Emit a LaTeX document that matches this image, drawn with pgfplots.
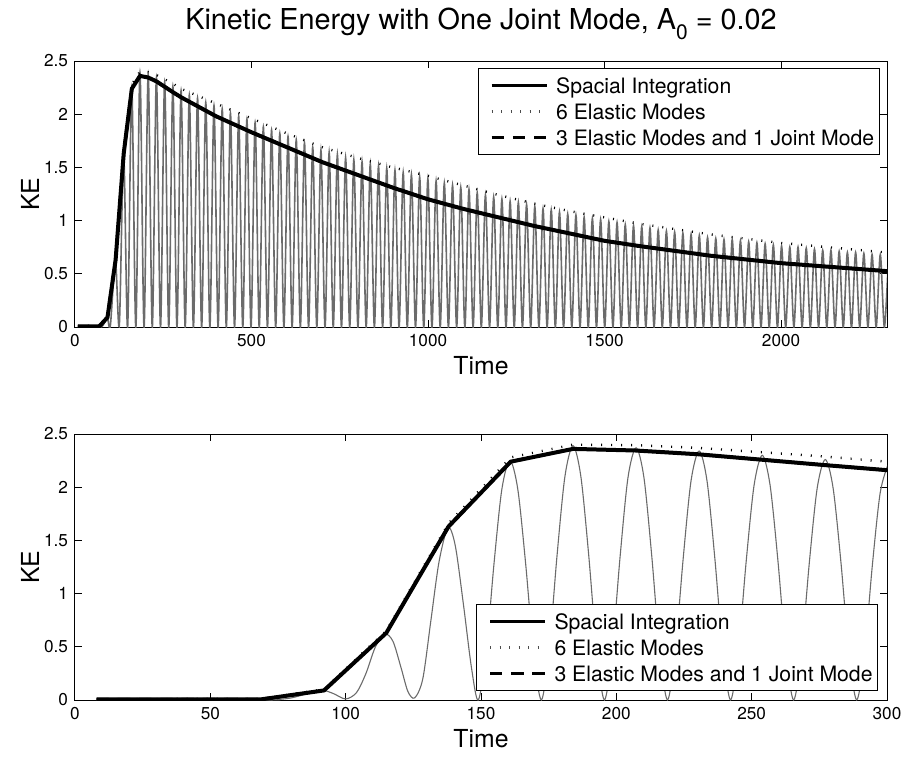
\documentclass[border=0pt]{standalone}
\usepackage{pgfplots}
\pgfplotsset{compat=1.18}
\usepackage{pgfplotstable}
\usepackage{fontspec}
\setmainfont{TeX Gyre Heros}

\pgfplotstableread{
t ke
8 0.005
69 0.007
92 0.09
115 0.63
138 1.63
161 2.24
184 2.36
207 2.345
230 2.31
253 2.26
276 2.21
300 2.16
400 1.98
500 1.83
600 1.69
700 1.55
800 1.43
900 1.31
1000 1.20
1100 1.11
1200 1.03
1300 0.95
1400 0.88
1500 0.81
1600 0.76
1700 0.715
1800 0.67
1900 0.635
2000 0.60
2100 0.575
2200 0.55
2300 0.525
}\spacial

\pgfplotstableread{
t ke
8 0.008
69 0.012
92 0.10
115 0.65
138 1.66
161 2.28
184 2.40
207 2.395
230 2.37
253 2.33
276 2.29
300 2.24
400 2.10
500 1.96
600 1.82
700 1.69
800 1.59
900 1.50
1000 1.42
1100 1.33
1200 1.24
1300 1.16
1400 1.09
1500 1.03
1600 0.97
1700 0.92
1800 0.87
1900 0.83
2000 0.79
2100 0.76
2200 0.73
2300 0.70
}\sixmodes

\pgfplotsset{
  mystyle/.style={
    scale only axis, width=406pt, height=133pt,
    ymin=0, ymax=2.5, ytick={0,0.5,1,1.5,2,2.5},
    tick align=inside, tickpos=both, major tick length=3.5pt,
    axis line style={line width=0.5pt},
    every tick/.style={black, line width=0.5pt},
    tick label style={font=\fontsize{8.6}{10}\selectfont},
    label style={font=\fontsize{12.4}{14}\selectfont},
    /pgf/number format/assume math mode=true,
    /pgf/number format/1000 sep={},
    scaled ticks=false,
    xlabel={Time}, ylabel={KE},
    xlabel style={at={(axis description cs:0.5,0)}, anchor=center, yshift=-19.5pt},
    ylabel style={at={(axis description cs:0,0.5)}, anchor=center, yshift=22.5pt},
    legend cell align=left,
    legend image code/.code={\draw[##1] (5.5pt,0pt) -- (33pt,0pt); \path (0pt,0pt) (35pt,0pt);},
    legend style={draw=black, line width=0.5pt, fill=white,
      font=\fontsize{10.6}{12}\selectfont, inner xsep=0.5pt, inner ysep=2pt,
      nodes={inner ysep=0pt, inner xsep=2pt, text height=10.5pt, text depth=2.5pt}},
  },
  spacialstyle/.style={black, line width=2pt},
  dotstyle/.style={black, line width=1.2pt, dash pattern=on 0.5pt off 4.5pt},
  joint/.style={black, line width=1.5pt, dash pattern=on 6.2pt off 4.4pt},
  osc/.style={black!58, line width=0.55pt},
}

\begin{document}
\begin{tikzpicture}
\useasboundingbox (0,0) rectangle (453pt,378.5pt);

\begin{axis}[mystyle, at={(37.5pt,215pt)}, anchor=south west,
  xmin=0, xmax=2300, xtick={0,500,1000,1500,2000},
  every axis title shift=0pt,
  title={Kinetic Energy with One Joint Mode, A\raisebox{-0.6ex}{\fontsize{10.5}{11}\selectfont 0} = 0.02},
  title style={at={(axis description cs:0.5,1)}, anchor=base, yshift=15.5pt, font=\fontsize{14.4}{16}\selectfont},
  legend style={at={(0.991,0.974)}, anchor=north east}]
\addlegendimage{black, line width=1.5pt}
\addlegendentry{Spacial Integration}
\addlegendimage{black!70, line width=1.2pt, dash pattern=on 0.5pt off 4.25pt}
\addlegendentry{6 Elastic Modes}
\addlegendimage{joint}
\addlegendentry{3 Elastic Modes and 1 Joint Mode}

\addplot[osc, line width=0.8pt, smooth, forget plot] coordinates {
(8,0) (69,0) (80,0.02) (91.5,0.09) (100,0.01) (114.5,0.62) (125.5,0.02) (137.8,1.62) (149,0) (160.7,2.25) (172.3,0) (184.0,2.39) (195.6,0) (207.3,2.37) (218.9,0) (230.6,2.34) (242.2,0) (253.9,2.30) (265.5,0) (277.2,2.26) (288.8,0) (300.5,2.22) (312.1,0) (323.8,2.18) (335.4,0) (347.1,2.15) (358.7,0) (370.4,2.11) (382.0,0) (393.7,2.08) (405.3,0) (417.0,2.05) (428.6,0) (440.3,2.01) (451.9,0) (463.6,1.98) (475.2,0) (486.9,1.95) (498.5,0) (510.2,1.92) (521.8,0) (533.5,1.88) (545.1,0) (556.8,1.85) (568.4,0) (580.1,1.82) (591.7,0) (603.4,1.79) (615.0,0) (626.7,1.76) (638.3,0) (650.0,1.73) (661.6,0) (673.3,1.69) (684.9,0) (696.6,1.66) (708.2,0) (719.9,1.64) (731.5,0) (743.2,1.62) (754.8,0) (766.5,1.59) (778.1,0) (789.8,1.57) (801.4,0) (813.1,1.55) (824.7,0) (836.4,1.53) (848.0,0) (859.7,1.51) (871.3,0) (883.0,1.49) (894.6,0) (906.3,1.47) (917.9,0) (929.6,1.45) (941.2,0) (952.9,1.43) (964.5,0) (976.2,1.41) (987.8,0) (999.5,1.39) (1011.1,0) (1022.8,1.37) (1034.4,0) (1046.1,1.35) (1057.7,0) (1069.4,1.33) (1081.0,0) (1092.7,1.31) (1104.3,0) (1116.0,1.29) (1127.6,0) (1139.3,1.26) (1150.9,0) (1162.6,1.24) (1174.2,0) (1185.9,1.22) (1197.5,0) (1209.2,1.20) (1220.8,0) (1232.5,1.18) (1244.1,0) (1255.8,1.17) (1267.4,0) (1279.1,1.15) (1290.7,0) (1302.4,1.13) (1314.0,0) (1325.7,1.11) (1337.3,0) (1349.0,1.10) (1360.6,0) (1372.3,1.08) (1383.9,0) (1395.6,1.06) (1407.2,0) (1418.9,1.05) (1430.5,0) (1442.2,1.03) (1453.8,0) (1465.5,1.02) (1477.1,0) (1488.8,1.01) (1500.4,0) (1512.1,0.99) (1523.7,0) (1535.4,0.98) (1547.0,0) (1558.7,0.96) (1570.3,0) (1582.0,0.95) (1593.6,0) (1605.3,0.94) (1616.9,0) (1628.6,0.93) (1640.2,0) (1651.9,0.91) (1663.5,0) (1675.2,0.90) (1686.8,0) (1698.5,0.89) (1710.1,0) (1721.8,0.88) (1733.4,0) (1745.1,0.87) (1756.7,0) (1768.4,0.86) (1780.0,0) (1791.7,0.84) (1803.3,0) (1815.0,0.83) (1826.6,0) (1838.3,0.82) (1849.9,0) (1861.6,0.82) (1873.2,0) (1884.9,0.81) (1896.5,0) (1908.2,0.80) (1919.8,0) (1931.5,0.79) (1943.1,0) (1954.8,0.78) (1966.4,0) (1978.1,0.77) (1989.7,0) (2001.4,0.76) (2013.0,0) (2024.7,0.75) (2036.3,0) (2048.0,0.75) (2059.6,0) (2071.3,0.74) (2082.9,0) (2094.6,0.73) (2106.2,0) (2117.9,0.72) (2129.5,0) (2141.2,0.72) (2152.8,0) (2164.5,0.71) (2176.1,0) (2187.8,0.70) (2199.4,0) (2211.1,0.70) (2222.7,0) (2234.4,0.69) (2246.0,0) (2257.7,0.68) (2269.3,0) (2281.0,0.68) (2292.6,0) (2304.3,0.67)
};
\addplot[dotstyle, forget plot] table[x=t, y=ke] {\sixmodes};
\addplot[joint, forget plot] table[x=t, y=ke] {\spacial};
\addplot[spacialstyle, forget plot] table[x=t, y=ke] {\spacial};
\end{axis}

\begin{axis}[mystyle, at={(37.5pt,28.5pt)}, anchor=south west,
  xmin=0, xmax=300, xtick={0,50,100,150,200,250,300},
  legend style={at={(0.989,0.034)}, anchor=south east}]
\addlegendimage{black, line width=1.5pt}
\addlegendentry{Spacial Integration}
\addlegendimage{black!70, line width=1.2pt, dash pattern=on 0.5pt off 4.25pt}
\addlegendentry{6 Elastic Modes}
\addlegendimage{joint}
\addlegendentry{3 Elastic Modes and 1 Joint Mode}

\addplot[osc, smooth, forget plot] coordinates {
(8,0) (69,0) (75,0.005) (80,0.02) (86,0.06) (91.5,0.09) (95.5,0.06) (100,0.01) (104,0.07) (107.5,0.25) (111,0.5) (114.5,0.62) (117.5,0.55) (120.5,0.3) (123,0.08) (125.5,0.02) (128.5,0.2) (131.5,0.75) (134.5,1.3) (137.8,1.62) (140.5,1.45) (143.5,0.9) (146.5,0.3) (149,0)
(151.9,0.45) (154.8,1.28) (157.7,1.98) (160.7,2.25) (163.6,1.98) (166.5,1.28) (169.4,0.45) (172.3,0)
(175.2,0.48) (178.1,1.36) (181.0,2.10) (184.0,2.39) (186.9,2.10) (189.8,1.36) (192.7,0.48) (195.6,0)
(198.5,0.47) (201.4,1.35) (204.3,2.09) (207.3,2.37) (210.2,2.09) (213.1,1.35) (216.0,0.47) (218.9,0)
(221.8,0.47) (224.7,1.33) (227.6,2.06) (230.6,2.34) (233.5,2.06) (236.4,1.33) (239.3,0.47) (242.2,0)
(245.1,0.46) (248.0,1.31) (250.9,2.02) (253.9,2.30) (256.8,2.02) (259.7,1.31) (262.6,0.46) (265.5,0)
(268.4,0.45) (271.3,1.29) (274.2,1.99) (277.2,2.26) (280.1,1.99) (283.0,1.29) (285.9,0.45) (288.8,0)
(291.7,0.44) (294.6,1.27) (297.5,1.95) (300.5,2.22)
};
\addplot[dotstyle, forget plot] table[x=t, y=ke] {\sixmodes};
\addplot[joint, forget plot] table[x=t, y=ke] {\spacial};
\addplot[spacialstyle, forget plot] table[x=t, y=ke] {\spacial};
\end{axis}
\end{tikzpicture}
\end{document}
